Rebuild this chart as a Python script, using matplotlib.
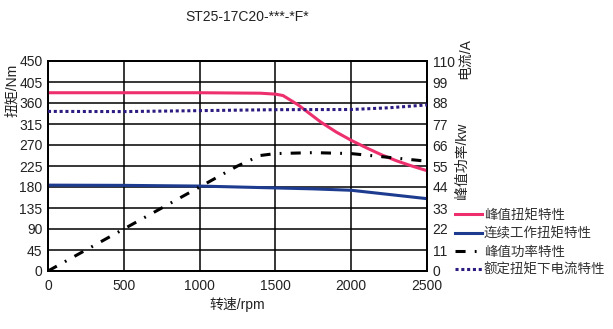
import matplotlib
matplotlib.use("Agg")
import matplotlib.pyplot as plt
from matplotlib.lines import Line2D

plt.rcParams['font.family'] = ['Liberation Sans', 'Noto Sans CJK SC', 'DejaVu Sans']
plt.rcParams['font.size'] = 10

# speed axis (rpm)
ticks_x = [0, 500, 1000, 1500, 2000, 2500]
ticks_left = [0, 45, 90, 135, 180, 225, 270, 315, 360, 405, 450]
ticks_right = [0, 11, 22, 33, 44, 55, 66, 77, 88, 99, 110]

# peak torque (Nm)
peak_rpm = [0, 500, 1000, 1400, 1500, 1550, 1650, 1800, 1900, 2000, 2100, 2200, 2300, 2400, 2500]
peak_torque = [382, 382, 382, 381, 379, 376, 356, 319, 298, 280, 264, 249, 236, 225, 215]

# continuous torque (Nm)
cont_rpm = [0, 500, 1000, 1500, 1750, 2000, 2250, 2500]
cont_torque = [184, 183.5, 182, 178, 176, 173, 164, 155]

# peak power (kW)
power_rpm = [0, 500, 1000, 1250, 1400, 1500, 1750, 2000, 2250, 2500]
power_kw = [0, 22, 44, 55, 60.5, 61.5, 62, 61.5, 59.5, 57.5]

# current at rated torque (A)
cur_rpm = [0, 500, 1000, 1500, 2000, 2250, 2500]
cur_a = [83.6, 83.5, 84, 84.5, 84.6, 85.5, 87]

pink = '#ee2f6d'
blue = '#1d3b8f'
purple = '#2d1b82'

fig = plt.figure(figsize=(6.13, 3.29), dpi=100)
ax = fig.add_axes([48/613, 1-271/329, 379/613, 210/329])
ax2 = ax.twinx()

ax.set_xlim(0, 2500)
ax.set_ylim(0, 450)
ax2.set_ylim(0, 110)
ax.set_xticks(ticks_x)
ax.set_yticks(ticks_left)
ax2.set_yticks(ticks_right)
ax.grid(True, color='black', lw=1.1)
for a in (ax, ax2):
    for s in a.spines.values():
        s.set_linewidth(1.3)
    a.tick_params(length=0, labelsize=10, colors='#222222')
ax.tick_params(axis='y', pad=4)
ax.tick_params(axis='x', pad=6)
ax2.tick_params(axis='y', pad=4)

ax.plot(peak_rpm, peak_torque, color=pink, lw=2.2, zorder=3)
ax.plot(cont_rpm, cont_torque, color=blue, lw=2.2, zorder=3)
ax2.plot(power_rpm, power_kw, color='black', lw=2.2, ls=(0, (3.3, 3, 0.6, 3)), zorder=3)
ax2.plot(cur_rpm, cur_a, color=purple, lw=2.2, ls=(0, (1, 0.9)), zorder=3)

fig.text(247/613, 1-17/329, 'ST25-17C20-***-*F*', ha='center', va='center', fontsize=10, color='#222222')
fig.text(237/613, 1-305/329, '转速/rpm', ha='center', va='center', fontsize=10, color='#222222')
fig.text(12/613, 1-90/329, '扭矩/Nm', rotation=90, ha='center', va='center', fontsize=10, color='#222222')
fig.text(465/613, 1-59/329, '电流/A', rotation=90, ha='center', va='center', fontsize=10, color='#222222')
fig.text(462/613, 1-161/329, '峰值功率/kw', rotation=90, ha='center', va='center', fontsize=10, color='#222222')

handles = [
    Line2D([], [], color=pink, lw=2.2),
    Line2D([], [], color=blue, lw=2.2),
    Line2D([], [], color='black', lw=2.2, ls=(0, (3.3, 3, 0.6, 3))),
    Line2D([], [], color=purple, lw=2.2, ls=(0, (1, 0.9))),
]
labels = ['峰值扭矩特性', '连续工作扭矩特性', '峰值功率特性', '额定扭矩下电流特性']
fig.legend(handles, labels, loc='center left', bbox_to_anchor=(448/613, 1-243/329),
           frameon=False, fontsize=9.7, handlelength=2.0, handletextpad=0.15,
           labelspacing=0.4, borderpad=0, labelcolor='#333333')

fig.savefig('out.png', dpi=100)
